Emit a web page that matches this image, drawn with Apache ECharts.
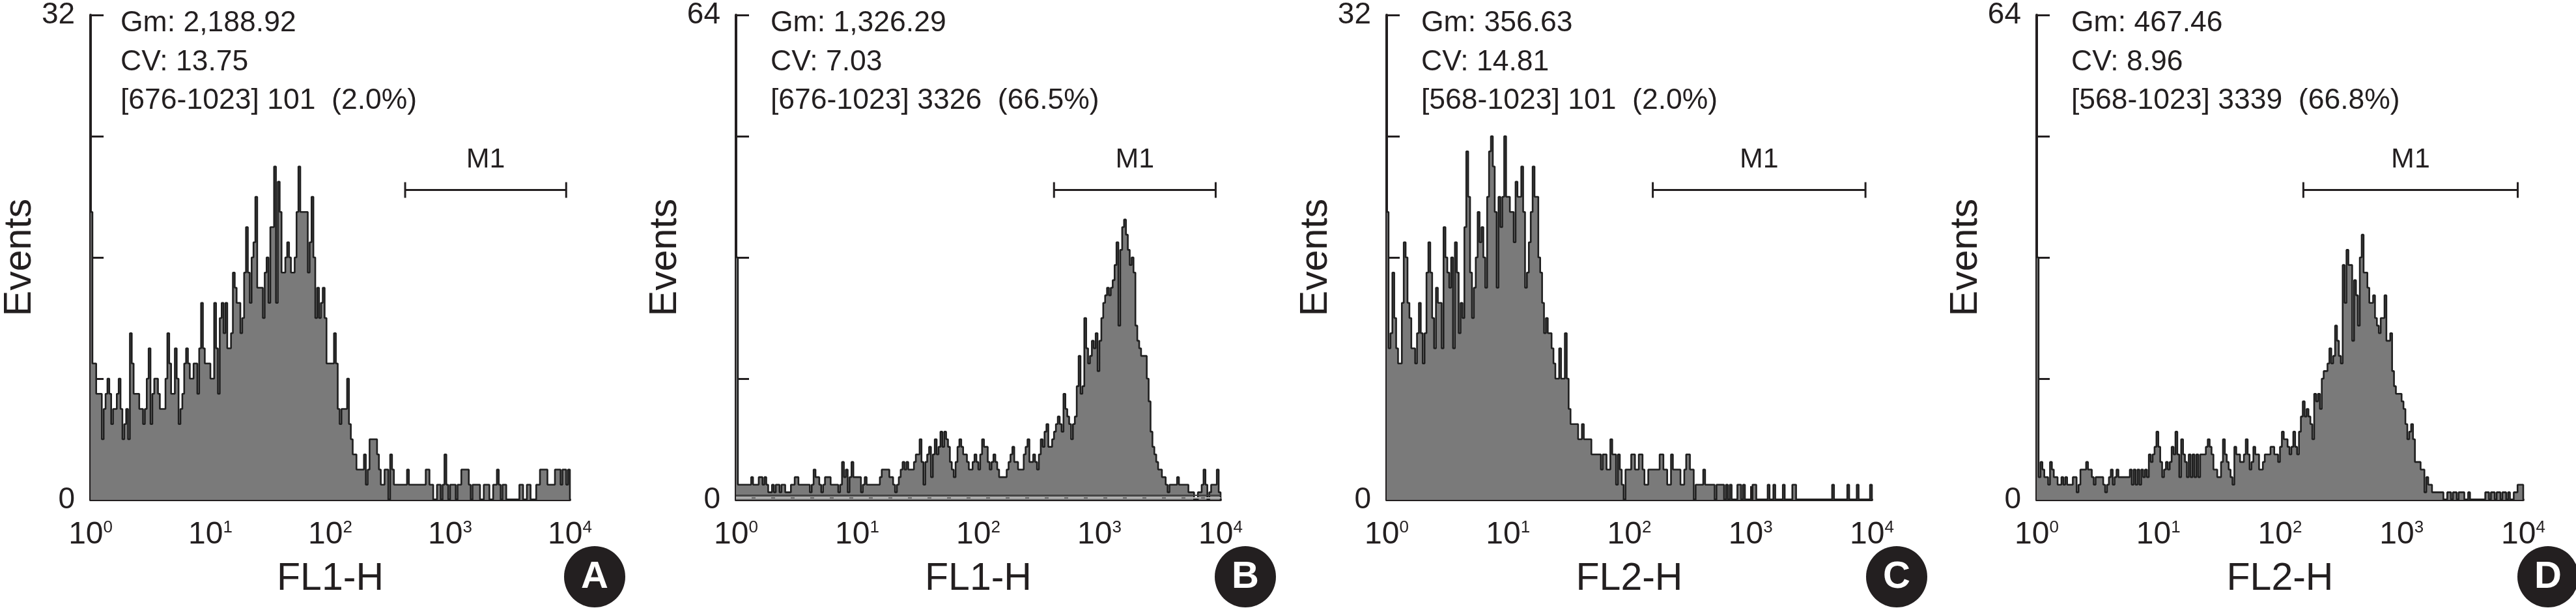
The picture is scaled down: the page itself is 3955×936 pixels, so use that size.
<!DOCTYPE html>
<html>
<head>
<meta charset="utf-8">
<title>Flow cytometry histograms</title>
<script src="https://cdn.jsdelivr.net/npm/echarts@6/dist/echarts.min.js"></script>
<style>
  html, body { margin: 0; padding: 0; background: #fff; }
  #chart { width: 3955px; height: 936px; }
</style>
</head>
<body>
<div id="chart"></div>
<script>
// events per channel (256 channels)
const eventsA = [
  19,9,9,7,7,7,4,6,7,8,7,5,6,6,7,8,
  6,4,5,6,4,11,9,7,7,7,6,6,5,6,8,10,
  5,7,8,8,7,6,6,6,8,11,9,7,7,10,8,5,
  6,7,9,10,9,8,8,9,9,7,10,13,10,9,9,9,
  8,8,13,10,7,12,13,11,13,10,10,11,15,14,13,13,
  11,12,15,18,15,13,16,17,20,14,14,14,12,15,16,13,
  18,18,22,13,21,19,15,15,16,17,16,15,15,16,19,22,
  19,19,19,19,15,17,20,16,12,14,12,13,14,12,9,9,
  9,9,11,9,6,5,6,6,6,8,5,4,3,3,2,2,
  2,2,3,1,2,4,4,4,4,3,2,1,1,2,2,0,
  3,2,1,1,1,1,1,1,1,2,1,1,1,1,1,1,
  1,1,1,2,2,1,1,0,0,1,1,0,1,3,1,0,
  1,1,1,0,1,1,2,2,2,2,1,0,1,1,1,1,
  0,0,1,1,1,0,0,1,1,2,1,0,1,1,0,0,
  0,0,0,0,0,1,1,0,0,1,1,0,0,0,1,1,
  2,2,2,2,1,1,1,1,2,2,2,1,2,2,1,2
]
const eventsB = [
  32,2,2,2,2,2,2,2,3,2,2,2,3,3,2,3,
  2,1,1,2,1,2,2,1,2,2,1,1,1,2,2,3,
  3,2,2,2,2,2,2,1,2,4,3,3,2,1,2,3,
  3,3,2,2,2,2,1,2,5,3,4,1,3,5,3,3,
  3,3,1,2,3,2,2,2,2,2,2,2,3,4,4,4,
  4,3,3,2,1,2,3,4,5,4,5,4,4,4,5,6,
  6,8,5,2,5,6,7,3,6,8,6,7,9,7,9,8,
  7,5,4,3,5,7,8,7,6,6,5,4,4,5,6,5,
  4,6,8,7,7,5,4,5,6,5,4,3,3,3,3,4,
  5,6,7,5,5,4,4,4,6,7,8,5,5,6,5,4,
  6,8,7,9,10,7,7,8,9,10,11,10,9,14,12,11,
  10,8,10,11,15,19,14,15,24,20,18,19,21,20,22,17,
  21,24,26,27,28,27,28,29,31,34,23,33,36,37,35,33,
  31,32,30,23,21,20,19,19,19,16,13,9,7,6,5,4,
  4,3,3,2,1,2,2,2,2,3,2,2,2,2,2,1,
  1,1,0,0,1,1,2,4,2,0,1,2,2,2,4,1
]
const eventsC = [
  19,10,11,15,12,10,9,9,13,17,16,13,12,10,10,9,
  11,13,11,9,11,15,17,15,12,10,14,13,13,10,18,16,
  15,14,16,10,17,15,11,13,12,18,23,20,15,12,14,16,
  19,17,18,16,14,20,23,24,22,19,14,20,18,20,24,20,
  20,19,19,17,21,20,20,22,19,14,15,17,19,22,20,20,
  16,15,13,11,12,11,11,10,9,8,8,10,8,8,11,8,
  6,5,5,5,5,4,4,5,4,4,4,4,3,3,3,3,
  3,2,3,3,2,2,4,3,3,1,3,2,1,0,2,2,
  2,3,3,2,2,3,3,2,1,1,2,2,2,2,2,2,
  3,3,2,2,1,1,3,2,2,2,2,1,1,2,3,3,
  2,2,0,1,1,1,1,2,1,1,1,1,1,0,1,1,
  1,1,0,1,0,1,0,0,0,1,1,0,1,0,0,0,
  0,1,1,0,0,0,0,0,0,1,0,0,1,0,0,0,
  0,1,0,0,0,0,1,1,0,0,0,0,0,0,0,0,
  0,0,0,0,0,0,0,0,0,0,0,1,0,0,0,0,
  0,0,0,1,0,0,0,0,1,0,0,0,0,0,0,1
]
const eventsD = [
  32,3,5,4,3,3,2,5,4,3,3,2,2,3,2,3,
  2,2,2,3,3,1,2,4,4,4,5,4,4,3,2,3,
  3,3,3,2,1,2,3,4,2,3,4,3,3,3,3,3,
  3,4,2,4,2,4,2,4,3,4,3,6,5,6,7,9,
  7,5,3,4,5,4,5,7,6,9,6,3,8,6,5,3,
  6,3,6,3,6,3,6,6,6,7,8,7,6,4,4,3,
  3,5,8,6,5,4,3,2,7,6,6,5,5,6,8,6,
  4,5,7,6,6,4,4,5,6,6,6,7,7,6,6,5,
  7,9,8,8,7,6,7,9,7,6,9,11,13,11,12,11,
  10,8,14,13,14,12,16,17,17,18,20,18,19,23,21,19,
  18,31,26,33,31,31,21,29,27,23,32,35,30,30,28,26,
  26,27,24,23,22,24,24,27,21,21,22,17,15,14,14,14,
  13,12,10,8,9,10,8,5,5,5,4,4,1,3,2,2,
  1,1,1,1,1,1,0,0,1,1,0,1,1,0,1,1,
  1,0,0,1,0,0,0,0,0,0,0,0,1,1,0,1,
  1,0,1,1,0,1,1,0,1,0,0,1,1,2,2,2
]
const tickExponents = ['0', '1', '2', '3', '4']
const yMaxes = [32, 64, 32, 64]
const channelNames = ['FL1-H', 'FL1-H', 'FL2-H', 'FL2-H']
const panelLetters = ['A', 'B', 'C', 'D']
const statsGm = ['Gm: 2,188.92', 'Gm: 1,326.29', 'Gm: 356.63', 'Gm: 467.46']
const statsCv = ['CV: 13.75', 'CV: 7.03', 'CV: 14.81', 'CV: 8.96']
const statsGate = [
  '[676-1023] 101  (2.0%)',
  '[676-1023] 3326  (66.5%)',
  '[568-1023] 101  (2.0%)',
  '[568-1023] 3339  (66.8%)'
]
const markerStart = [168, 168, 140.4, 140.3]
const markerEnd = [254, 253.4, 252.6, 253.1]
const markerLevel = [20.45, 40.9, 20.45, 40.9]

const allEvents = [eventsA, eventsB, eventsC, eventsD]
const gridLeft = [132, 1130, 2129, 3127]
const gridRight = [875, 1874, 2874, 3874]
const gridTop = 19
const gridBottom = 767
const textFont = 'Liberation Sans'
const ink = '#231f20'

const grids = [], xAxes = [], yAxes = [], series = [], graphics = []

allEvents.forEach((events, p) => {
  grids.push({
    left: gridLeft[p],
    top: gridTop,
    width: gridRight[p] - gridLeft[p],
    height: gridBottom - gridTop
  })
  xAxes.push({
    gridIndex: p,
    type: 'value',
    min: 0,
    max: 256,
    interval: 64,
    name: channelNames[p],
    nameLocation: 'middle',
    nameGap: 122,
    nameTextStyle: { fontFamily: textFont, fontSize: 59, color: ink, verticalAlign: 'middle' },
    splitLine: { show: false },
    axisLine: { lineStyle: { color: ink, width: 4 } },
    axisTick: { inside: true, length: 21, customValues: [64, 128, 192], lineStyle: { color: ink, width: 3 } },
    axisLabel: {
      margin: 30,
      fontFamily: textFont,
      fontSize: 48,
      color: ink,
      showMinLabel: true,
      showMaxLabel: true,
      formatter: v => '10{s|' + tickExponents[v / 64] + '}',
      rich: { s: { fontFamily: textFont, fontSize: 26, color: ink, verticalAlign: 'top', padding: [0, 0, 14, 0] } }
    }
  })
  yAxes.push({
    gridIndex: p,
    type: 'value',
    min: 0,
    max: yMaxes[p],
    interval: yMaxes[p] / 4,
    name: 'Events',
    nameLocation: 'middle',
    nameGap: 107,
    nameTextStyle: { fontFamily: textFont, fontSize: 59, color: ink, verticalAlign: 'middle' },
    splitLine: { show: false },
    axisLine: { show: true, lineStyle: { color: ink, width: 4 } },
    axisTick: { show: true, inside: true, length: 20, lineStyle: { color: ink, width: 3 } },
    axisLabel: {
      margin: 24,
      fontFamily: textFont,
      fontSize: 46,
      color: ink,
      padding: [10, 0, 0, 0],
      formatter: v => (v === 0 || v === yMaxes[p]) ? String(v) : ''
    }
  })

  // closing point so the last channel keeps its width
  const points = events.map((v, i) => [i, v])
  points.push([256, 0])
  const hist = {
    type: 'line',
    xAxisIndex: p,
    yAxisIndex: p,
    data: points,
    step: 'end',
    symbol: 'none',
    lineStyle: { color: '#1f1f1f', width: 2.6 },
    areaStyle: { color: '#7a7a7a', opacity: 1 },
    silent: true
  }
  // panel B has a stray gate line running along the baseline
  if (p === 1) {
    hist.markLine = {
      silent: true,
      symbol: 'none',
      label: { show: false },
      data: [
        { yAxis: 0.6, lineStyle: { color: '#3c3c3c', width: 2, type: 'solid' } },
        { yAxis: 0.26, lineStyle: { color: '#c4c4c4', width: 2, type: [24, 6] } }
      ]
    }
  }
  series.push(hist)

  const cap = { symbol: 'rect', symbolSize: [3, 24] }
  series.push({
    type: 'line',
    xAxisIndex: p,
    yAxisIndex: p,
    showSymbol: true,
    showAllSymbol: true,
    silent: true,
    z: 5,
    lineStyle: { color: ink, width: 3 },
    itemStyle: { color: ink },
    data: [
      { value: [markerStart[p], markerLevel[p]], ...cap },
      {
        value: [(markerStart[p] + markerEnd[p]) / 2, markerLevel[p]],
        symbol: 'circle',
        symbolSize: 1,
        label: {
          show: true,
          position: 'top',
          distance: 24,
          formatter: 'M1',
          fontFamily: textFont,
          fontSize: 43,
          color: ink
        }
      },
      { value: [markerEnd[p], markerLevel[p]], ...cap }
    ]
  })

  const statX = gridLeft[p] + 53
  ;[statsGm[p], statsCv[p], statsGate[p]].forEach((line, k) => {
    graphics.push({
      type: 'text',
      left: statX,
      top: 36 + k * 59.5 - 25,
      style: { text: line, fontFamily: textFont, fontSize: 44.5, fill: ink, lineHeight: 50 }
    })
  })

  const badgeX = gridRight[p] + 38
  graphics.push({
    type: 'circle',
    shape: { cx: badgeX, cy: 885, r: 47 },
    style: { fill: ink }
  })
  graphics.push({
    type: 'text',
    x: badgeX,
    y: 886,
    style: {
      text: panelLetters[p],
      fontFamily: textFont,
      fontWeight: 'bold',
      fontSize: 58,
      fill: '#fff',
      align: 'center',
      verticalAlign: 'middle'
    }
  })
})

const chart = echarts.init(document.getElementById('chart'))
chart.setOption({
  animation: false,
  backgroundColor: '#fff',
  grid: grids,
  xAxis: xAxes,
  yAxis: yAxes,
  series: series,
  graphic: graphics
})
</script>
</body>
</html>
